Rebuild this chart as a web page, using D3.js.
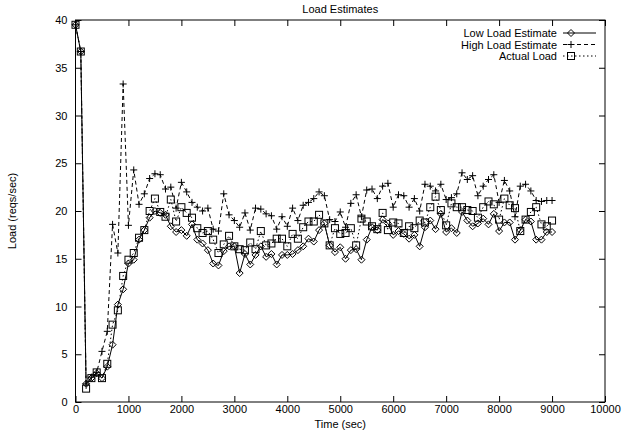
<!DOCTYPE html>
<html>
<head>
<meta charset="utf-8">
<script src="https://cdn.jsdelivr.net/npm/d3@7"></script>
<style>
  body { margin: 0; background: #fff; }
  svg { display: block; }
</style>
</head>
<body>
<script>
// samples every 100 sec, 0..9000
const times = d3.range(0, 9100, 100);

const lowLoad = [
  39.5, 36.7, 1.9, 2.5, 3.0, 2.5, 3.7, 6.0, 10.2, 11.8,
  14.5, 14.9, 17.0, 18.0, 19.3, 20.0, 19.8, 19.6, 18.4, 17.8,
  18.0, 17.4, 18.6, 17.0, 16.6, 15.9, 14.5, 14.3, 15.8, 16.3,
  16.3, 13.5, 15.5, 14.4, 15.4, 16.3, 15.2, 15.5, 14.4, 15.4,
  15.4, 15.5, 15.9, 16.3, 17.1, 16.8, 18.0, 18.7, 16.4, 15.7,
  16.2, 15.0, 15.9, 16.0, 14.9, 17.0, 18.3, 18.0, 19.1, 18.7,
  17.5, 17.9, 17.6, 17.1, 17.5, 16.3, 18.3, 19.0, 18.1, 19.7,
  17.8, 18.2, 17.7, 19.9, 19.0, 18.4, 18.7, 19.2, 18.6, 19.7,
  17.9, 18.8, 18.8, 17.0, 18.0, 19.1, 18.9, 17.0, 17.0, 17.8,
  17.8
];

const highLoad = [
  39.5, 36.7, 1.9, 2.6, 3.1, 5.3, 7.4, 18.6, 15.6, 33.3,
  18.5, 24.3, 20.7, 21.8, 23.4, 23.9, 23.8, 22.3, 22.5, 20.3,
  23.0, 22.0, 20.9, 20.4, 20.0, 20.3, 18.1, 17.9, 21.8, 19.6,
  19.0, 18.3, 19.8, 18.0, 20.3, 20.2, 19.7, 19.5, 18.1, 19.4,
  18.4, 20.3, 19.0, 20.6, 20.9, 21.3, 22.0, 21.6, 19.1, 18.9,
  19.9, 18.3, 20.8, 21.7, 19.4, 22.2, 22.3, 21.3, 22.6, 22.9,
  20.4, 21.7, 21.6, 20.4, 21.3, 20.0, 22.8, 22.6, 22.1, 22.8,
  21.2, 21.4, 21.8, 24.0, 23.3, 23.7, 21.6, 22.6, 23.3, 23.8,
  20.9, 23.2, 22.1, 19.4, 22.6, 22.8, 22.1, 21.1, 21.0, 21.1,
  21.1
];

const actualLoad = [
  39.5, 36.7, 1.4, 2.5, 3.1, 2.5, 4.0, 8.1, 9.6, 13.2,
  14.9, 15.6, 17.2, 18.0, 20.0, 21.3, 19.9, 19.4, 21.2, 18.9,
  20.4, 19.8, 19.3, 18.2, 17.7, 17.9, 17.0, 15.6, 16.5, 17.4,
  16.3, 16.0, 15.9, 16.7, 16.0, 17.9, 16.4, 16.6, 17.1, 17.1,
  16.3, 17.6, 17.1, 18.3, 18.9, 18.9, 19.6, 18.7, 16.4, 18.2,
  17.6, 17.7, 18.2, 16.4, 19.2, 18.9, 18.4, 18.1, 19.8, 18.0,
  18.8, 18.7, 17.7, 18.4, 18.2, 19.0, 18.8, 20.4, 21.5, 20.1,
  18.5, 20.8, 20.4, 20.4, 20.1, 20.0, 19.3, 20.4, 21.0, 20.7,
  19.1, 21.3, 20.6, 20.3, 17.9, 19.1, 19.9, 20.4, 18.6, 18.4,
  19.0
];

const seriesNames = ['Low Load Estimate', 'High Load Estimate', 'Actual Load'];
const xTicks = d3.range(0, 10001, 1000);
const yTicks = d3.range(0, 41, 5);

const width = 641;
const height = 438;
const margin = { top: 20, right: 36, bottom: 36, left: 75.5 };

const svg = d3.select('body')
  .append('svg')
  .attr('width', width)
  .attr('height', height)
  .style('font-family', '"Liberation Sans", Arial, sans-serif')
  .style('font-size', '11px');

const x = d3.scaleLinear()
  .domain([0, 10000])
  .range([margin.left, width - margin.right]);

const y = d3.scaleLinear()
  .domain([0, 40])
  .range([height - margin.bottom, margin.top]);

const tickLen = 6;
const fmt = d3.format('d');

// axes: ticks pointing inward, mirrored on top/right like gnuplot
svg.append('g')
  .attr('transform', `translate(0,${y(0)})`)
  .call(d3.axisBottom(x).tickValues(xTicks).tickSize(-tickLen).tickPadding(3).tickFormat(fmt))
  .call(g => g.select('.domain').remove());

svg.append('g')
  .attr('transform', `translate(0,${y(40)})`)
  .call(d3.axisTop(x).tickValues(xTicks).tickSize(-tickLen).tickFormat(''))
  .call(g => g.select('.domain').remove());

svg.append('g')
  .attr('transform', `translate(${x(0)},0)`)
  .call(d3.axisLeft(y).tickValues(yTicks).tickSize(-tickLen).tickPadding(8).tickFormat(fmt))
  .call(g => g.select('.domain').remove());

svg.append('g')
  .attr('transform', `translate(${x(10000)},0)`)
  .call(d3.axisRight(y).tickValues(yTicks).tickSize(-tickLen).tickFormat(''))
  .call(g => g.select('.domain').remove());

svg.selectAll('.tick text')
  .attr('fill', '#000')
  .style('font-size', '11px')
  .style('font-family', '"Liberation Sans", Arial, sans-serif');
svg.selectAll('.tick line').attr('stroke', '#000');

// frame
svg.append('rect')
  .attr('x', x(0))
  .attr('y', y(40))
  .attr('width', x(10000) - x(0))
  .attr('height', y(0) - y(40))
  .attr('fill', 'none')
  .attr('stroke', '#000')
  .attr('stroke-width', 1);

// titles
svg.append('text')
  .attr('x', (x(0) + x(10000)) / 2)
  .attr('y', 13)
  .attr('text-anchor', 'middle')
  .text('Load Estimates');

svg.append('text')
  .attr('x', (x(0) + x(10000)) / 2)
  .attr('y', 428)
  .attr('text-anchor', 'middle')
  .text('Time (sec)');

svg.append('text')
  .attr('transform', `translate(16,${(y(0) + y(40)) / 2}) rotate(-90)`)
  .attr('text-anchor', 'middle')
  .text('Load (reqs/sec)');

// marker shapes
const sz = 3.5;
function marker(g, kind) {
  if (kind === 0) {
    g.append('path')
      .attr('d', `M0,${-sz}L${sz},0L0,${sz}L${-sz},0Z`)
      .attr('fill', 'none').attr('stroke', '#000');
  } else if (kind === 1) {
    g.append('path')
      .attr('d', `M${-sz},0H${sz}M0,${-sz}V${sz}`)
      .attr('fill', 'none').attr('stroke', '#000');
  } else {
    g.append('rect')
      .attr('x', -sz).attr('y', -sz)
      .attr('width', 2 * sz).attr('height', 2 * sz)
      .attr('fill', 'none').attr('stroke', '#000');
  }
}

const dashes = [null, '4,3', '1.5,2.5'];
const allSeries = [lowLoad, highLoad, actualLoad];

const line = d3.line()
  .x((d, i) => x(times[i]))
  .y(d => y(d));

allSeries.forEach((vals, k) => {
  svg.append('path')
    .datum(vals)
    .attr('d', line)
    .attr('fill', 'none')
    .attr('stroke', '#000')
    .attr('stroke-width', 1)
    .attr('stroke-dasharray', dashes[k]);

  svg.append('g')
    .selectAll('g')
    .data(vals)
    .join('g')
    .attr('transform', (d, i) => `translate(${x(times[i])},${y(d)})`)
    .each(function() { marker(d3.select(this), k); });
});

// legend
const legend = svg.append('g');
seriesNames.forEach((name, k) => {
  const ly = 33 + k * 11.5;
  legend.append('text')
    .attr('x', 557)
    .attr('y', ly + 4)
    .attr('text-anchor', 'end')
    .text(name);
  legend.append('line')
    .attr('x1', 563).attr('x2', 596)
    .attr('y1', ly).attr('y2', ly)
    .attr('stroke', '#000')
    .attr('stroke-dasharray', dashes[k]);
  const m = legend.append('g').attr('transform', `translate(571,${ly})`);
  marker(m, k);
});
</script>
</body>
</html>
